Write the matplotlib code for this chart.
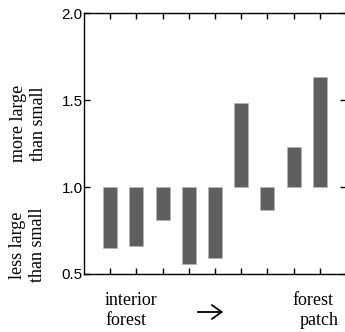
import matplotlib
matplotlib.use("Agg")
import matplotlib.pyplot as plt

# ratio of large to small, one bar per site from interior forest to forest patch
sites = [1, 2, 3, 4, 5, 6, 7, 8, 9]
ratios = [0.65, 0.66, 0.81, 0.56, 0.59, 1.48, 0.87, 1.23, 1.63]
yticks = [0.5, 1.0, 1.5, 2.0]
yticklabels = ["0.5", "1.0", "1.5", "2.0"]

fig = plt.figure(figsize=(3.45, 3.32), dpi=100)
ax = fig.add_axes([0.2435, 0.1747, 0.7594, 0.7861])

# bars hang from the 1.0 baseline
heights = [r - 1.0 for r in ratios]
ax.bar(sites, heights, bottom=1.0, width=0.54, color="#5f5f5f",
       edgecolor="#b4b4b4", linewidth=0.6)

ax.set_xlim(0, 10)
ax.set_ylim(0.5, 2.0)
ax.set_xticks(sites)
ax.set_xticklabels([])
ax.set_yticks(yticks)
ax.set_yticklabels(yticklabels, fontfamily="Liberation Sans", fontsize=11)
ax.tick_params(direction="in", length=4.5, width=1, top=True, right=True, pad=1)

for s in ax.spines.values():
    s.set_linewidth(1)

serif = "Liberation Serif"
fig.text(0.082, 0.627, "more large\nthan small", rotation=90, ha="center",
         va="center", fontfamily=serif, fontsize=13, linespacing=1.25)
fig.text(0.080, 0.262, "less large\nthan small", rotation=90, ha="center",
         va="center", fontfamily=serif, fontsize=13, linespacing=1.25)
fig.text(105 / 345, 1 - 292 / 332, "interior\nforest", ha="left", va="top",
         fontfamily=serif, fontsize=13, linespacing=1.25)
fig.text(292 / 345, 1 - 292 / 332, "forest", ha="left", va="top",
         fontfamily=serif, fontsize=13)
fig.text(300 / 345, 1 - 312 / 332, "patch", ha="left", va="top",
         fontfamily=serif, fontsize=13)

# direction arrow between the two end labels
fig.add_artist(matplotlib.patches.FancyArrowPatch(
    (195 / 345, 1 - 312 / 332), (226 / 345, 1 - 312 / 332),
    transform=fig.transFigure, arrowstyle="->,head_length=7,head_width=5",
    mutation_scale=1, linewidth=1.3, color="black"))

fig.savefig("out.png", dpi=100)
